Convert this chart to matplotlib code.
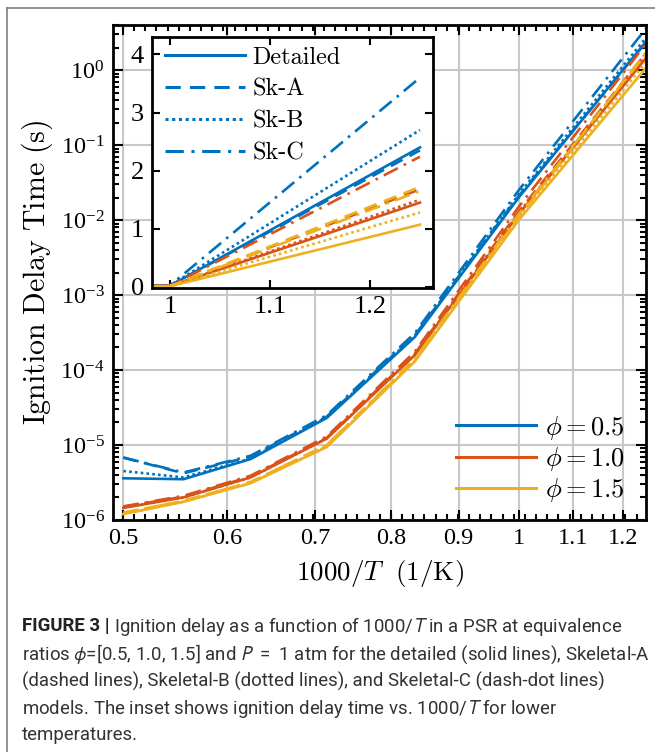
import numpy as np
import matplotlib
matplotlib.use("Agg")
import matplotlib.pyplot as plt
from matplotlib import font_manager as fm
from matplotlib.ticker import FixedLocator, NullFormatter, LogLocator, FixedFormatter
from matplotlib.lines import Line2D
from matplotlib.text import Annotation

# ---------------- data ----------------
T_K = [2000, 1800, 1600, 1400, 1200, 1000, 800]
x_inv = [1000.0 / t for t in T_K]

phis = ["0.5", "1.0", "1.5"]
models = ["Detailed", "Sk-A", "Sk-B", "Sk-C"]

# ignition delay (s) per phi, per model
tau_phi05 = {
    "Detailed": [3.6e-6, 3.5e-6, 6.5e-6, 2.3e-5, 2.75e-4, 0.020, 2.40],
    "Sk-A":     [6.8e-6, 4.2e-6, 7.0e-6, 2.4e-5, 2.90e-4, 0.021, 2.35],
    "Sk-B":     [4.5e-6, 3.7e-6, 6.6e-6, 2.35e-5, 2.85e-4, 0.022, 2.70],
    "Sk-C":     [6.8e-6, 4.3e-6, 7.2e-6, 2.5e-5, 3.10e-4, 0.025, 3.60],
}
tau_phi10 = {
    "Detailed": [1.45e-6, 2.0e-6, 3.7e-6, 1.22e-5, 1.58e-4, 0.012, 1.45],
    "Sk-A":     [1.50e-6, 2.05e-6, 3.8e-6, 1.25e-5, 1.65e-4, 0.013, 1.68],
    "Sk-B":     [1.45e-6, 2.0e-6, 3.7e-6, 1.23e-5, 1.60e-4, 0.0125, 1.50],
    "Sk-C":     [1.52e-6, 2.1e-6, 3.9e-6, 1.3e-5, 1.75e-4, 0.015, 2.24],
}
tau_phi15 = {
    "Detailed": [1.2e-6, 1.75e-6, 3.1e-6, 9.4e-6, 1.30e-4, 0.010, 1.07],
    "Sk-A":     [1.25e-6, 1.8e-6, 3.2e-6, 1.0e-5, 1.35e-4, 0.011, 1.72],
    "Sk-B":     [1.2e-6, 1.75e-6, 3.1e-6, 9.6e-6, 1.32e-4, 0.0105, 1.28],
    "Sk-C":     [1.25e-6, 1.8e-6, 3.2e-6, 1.0e-5, 1.40e-4, 0.012, 1.65],
}
tau_all = [tau_phi05, tau_phi10, tau_phi15]

main_xticks = [0.5, 0.6, 0.7, 0.8, 0.9, 1.0, 1.1, 1.2]
main_xticklabels = ["0.5", "0.6", "0.7", "0.8", "0.9", "1", "1.1", "1.2"]
inset_xticks = [1.0, 1.1, 1.2]
inset_xticklabels = ["1", "1.1", "1.2"]
inset_yticks = [0, 1, 2, 3, 4]

caption_head = "FIGURE 3 | "
caption_lines = [
    r"Ignition delay as a function of 1000/$T$ in a PSR at equivalence",
    r"ratios $\phi$=[0.5, 1.0, 1.5] and $P$  =  1 atm for the detailed (solid lines), Skeletal-A",
    r"(dashed lines), Skeletal-B (dotted lines), and Skeletal-C (dash-dot lines)",
    r"models. The inset shows ignition delay time vs. 1000/$T$ for lower",
    r"temperatures.",
]

# ---------------- style ----------------
colors = ["#0072BD", "#D95319", "#EDB120"]
styles = {"Detailed": "-", "Sk-A": (0, (5, 3)), "Sk-B": (0, (1, 1.2)), "Sk-C": (0, (6, 2.5, 1, 2.5))}

avail = {f.name for f in fm.fontManager.ttflist}
def pick(names):
    for n in names:
        if n in avail:
            return n
    return "DejaVu Sans"

serif = pick(["Liberation Serif", "DejaVu Serif"])
capfont = pick(["Liberation Sans Narrow", "Roboto", "Liberation Sans"])
cmfont = pick(["cmr10", serif])

plt.rcParams["font.family"] = serif
plt.rcParams["mathtext.fontset"] = "custom"
plt.rcParams["mathtext.rm"] = serif
plt.rcParams["mathtext.it"] = serif + ":italic"

W, H = 655, 752
fig = plt.figure(figsize=(W / 100, H / 100), dpi=100)

def fx(px):
    return px / W

def fy(py):
    return 1 - py / H

# main axes
L, R, Tp, B = 113, 646, 25, 520
ax = fig.add_axes([fx(L), fy(B), fx(R - L), (B - Tp) / H])
ax.set_xscale("log")
ax.set_yscale("log")

lw = 1.9
for ci, tau in enumerate(tau_all):
    for m in models:
        ax.plot(x_inv, tau[m], color=colors[ci], linestyle=styles[m], lw=lw)

ax.set_xlim(0.491, 1.25)
ax.set_ylim(1e-6, 4.0)
ax.xaxis.set_major_locator(FixedLocator(main_xticks))
ax.xaxis.set_major_formatter(FixedFormatter(main_xticklabels))
minor_x = [v for v in 10 ** np.arange(np.log10(0.49), np.log10(1.26), 0.0085)]
ax.xaxis.set_minor_locator(FixedLocator(minor_x))
ax.xaxis.set_minor_formatter(NullFormatter())
ax.yaxis.set_major_locator(FixedLocator([10.0 ** k for k in range(-6, 1)]))
ax.yaxis.set_major_formatter(FixedFormatter([r"$10^{%d}$" % k for k in range(-6, 1)]))
ax.yaxis.set_minor_locator(LogLocator(base=10, subs=np.arange(2, 10), numticks=20))
ax.yaxis.set_minor_formatter(NullFormatter())
ax.tick_params(which="both", direction="in", top=True, right=True, width=1.5, colors="black")
ax.tick_params(which="major", length=7, labelsize=17.5, pad=6)
ax.tick_params(which="minor", length=4)
ax.grid(True, which="major", color="#c8c8c8", lw=1.5)
ax.set_axisbelow(True)
for s in ax.spines.values():
    s.set_linewidth(2.0)

ax.set_ylabel(r"$\mathrm{Ignition\ Delay\ Time\ (s)}$", fontsize=21.5, math_fontfamily="cm", labelpad=4)
ax.set_xlabel(r"$1000/T\ \ \mathrm{(1/K)}$", fontsize=19.5, math_fontfamily="cm", labelpad=6)

# main legend
leg_handles = [Line2D([], [], color=c, lw=2.2) for c in colors]
leg_labels = [r"$\phi = %s$" % p for p in phis]
ax.legend(leg_handles, leg_labels, loc="lower right", frameon=False,
          prop=fm.FontProperties(size=19, math_fontfamily="cm"),
          handlelength=3.0, handletextpad=0.35, labelspacing=0.12,
          bbox_to_anchor=(0.995, -0.005), borderaxespad=0.3)

# inset axes
iL, iR, iT, iB = 152, 433, 37, 288
axi = fig.add_axes([fx(iL), fy(iB), fx(iR - iL), (iB - iT) / H])
axi.set_facecolor("white")
for ci, tau in enumerate(tau_all):
    for m in models:
        axi.plot(x_inv, tau[m], color=colors[ci], linestyle=styles[m], lw=lw)
axi.set_xlim(0.982, 1.263)
axi.set_ylim(-0.02, 4.3)
axi.set_xticks(inset_xticks)
axi.set_xticklabels(inset_xticklabels)
axi.set_yticks(inset_yticks)
axi.tick_params(which="both", direction="in", top=True, right=True, width=1.5,
                length=6, labelsize=19, pad=6)
for s in axi.spines.values():
    s.set_linewidth(2.0)

in_handles = [Line2D([], [], color=colors[0], linestyle=styles[m], lw=2.2) for m in models]
axi.legend(in_handles, models, loc="upper left", frameon=False,
           prop=fm.FontProperties(family=cmfont, size=17.4),
           handlelength=3.3, handletextpad=0.3, labelspacing=0.4,
           borderaxespad=0.15, bbox_to_anchor=(0.0, 1.015))

# border lines
fig.add_artist(Line2D([fx(7), fx(7)], [fy(8), 0], color="#808080", lw=1.2))
fig.add_artist(Line2D([fx(7), 1], [fy(8), fy(8)], color="#808080", lw=1.2))

# caption
cap_fs = 13.4
cap_col = "#333333"
cap_y = [626, 654, 681, 708, 735]
bold = fig.text(fx(22), fy(cap_y[0]), caption_head, fontsize=cap_fs, fontweight="bold",
                family=capfont, va="center", color="#222222")
fig.add_artist(Annotation(caption_lines[0], xy=(1.0, 0.5), xycoords=bold,
                          va="center", ha="left", fontsize=cap_fs, family=capfont,
                          math_fontfamily="stixsans", color=cap_col))
for line, yy in zip(caption_lines[1:], cap_y[1:]):
    fig.text(fx(22), fy(yy), line, fontsize=cap_fs, family=capfont, va="center",
             math_fontfamily="stixsans", color=cap_col)

fig.savefig("out.png", dpi=100)
